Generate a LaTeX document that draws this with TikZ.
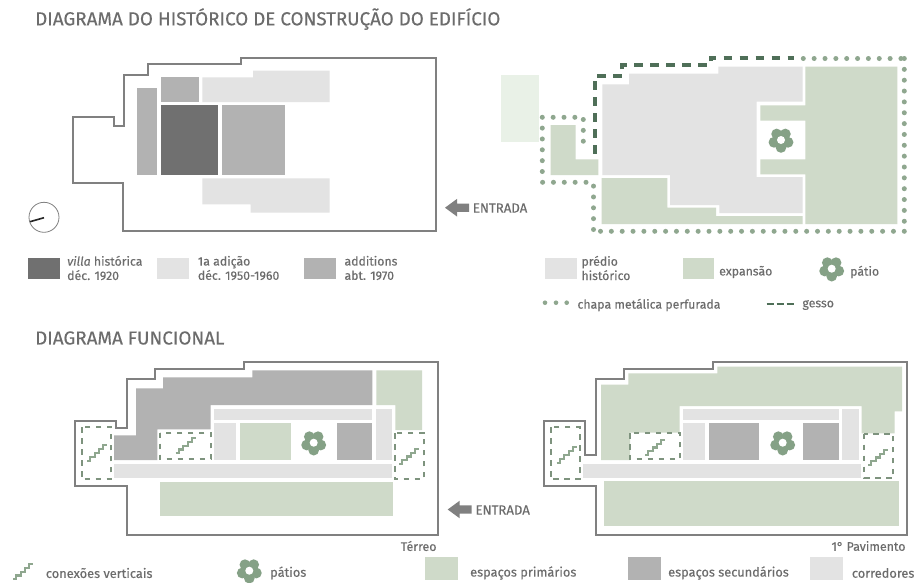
\documentclass[tikz,border=0pt]{standalone}
\usepackage{fontspec}
\setmainfont{Fira Sans}[FakeBold=0.25]
\definecolor{grnfill}{HTML}{CFDAC9}
\definecolor{palegrn}{HTML}{E9F1E7}
\definecolor{lightg}{HTML}{E3E3E3}
\definecolor{midg}{HTML}{B2B2B2}
\definecolor{darkg}{HTML}{707070}
\definecolor{outl}{HTML}{808080}
\definecolor{txt}{HTML}{6C6C6C}
\definecolor{dotg}{HTML}{8FA78F}
\definecolor{dashg}{HTML}{4F6F58}
\definecolor{flowerg}{HTML}{85A186}
\tikzset{
  x=1pt,y=-1pt,
  plan/.style={draw=outl,line width=1.8pt,line join=miter},
  dots/.style={draw=dotg,line width=5pt,line cap=round,dash pattern=on 0pt off 10.85pt},
  gessoline/.style={draw=dashg,line width=3.8pt,dash pattern=on 8.5pt off 7.5pt},
  stairbox/.style={draw=dotg!88!black,line width=1.7pt,dash pattern=on 5.5pt off 5.5pt},
  label/.style={anchor=west,inner sep=0pt,text=txt,font=\fontsize{12.3}{14.3}\selectfont,align=left},
  lowlabel/.style={label,font=\fontsize{12.8}{14.3}\selectfont},
  floorlabel/.style={label,anchor=east,font=\fontsize{12.4}{14.3}\selectfont},
  entrylabel/.style={label,font=\fontsize{13.2}{14.3}\selectfont},
  titletext/.style={anchor=west,inner sep=0pt,text=txt,font=\fontsize{18.8}{22}\selectfont},
  flower/.pic={
    \foreach \a in {90,162,234,306,18}{\fill[flowerg] (\a:7.4) circle[radius=5.4];}
    \fill[flowerg] (0,0) circle[radius=6];
    \fill[white] (0,0) circle[radius=4];
  },
  stairs/.pic={
    \draw[dotg,line width=2.2pt,line join=miter]
      (0,0)--(3,0)--(3,-3.8)--(7.6,-3.8)--(7.6,-7.6)--(12,-7.6)--(12,-11.4)--(16,-11.4)--(16,-15.4)--(20,-15.4);
  },
  entryarrow/.pic={
    \fill[outl] (0,0)--(12,-8.8)--(12,-4.2)--(24,-4.2)--(24,4.2)--(12,4.2)--(12,8.8)--cycle;
  }
}
\begin{document}
\begin{tikzpicture}
\useasboundingbox (0,0) rectangle (916,582);
\fill[white] (0,0) rectangle (916,582);

%% titles
\node[titletext] (t1) at (35,19) {DIAGRAMA DO HISTÓRICO DE CONSTRUÇÃO DO EDIFÍCIO};
\node[titletext] (t2) at (35,338) {DIAGRAMA FUNCIONAL};

%% top-left plan
\fill[midg] (136.7,88.3) rectangle (157,174.7);
\fill[midg] (160.7,77.3) rectangle (198.7,102);
\fill[lightg] (202.3,77.3)--(253,77.3)--(253,70.7)--(329.7,70.7)--(329.7,102)--(202.3,102)--cycle;
\fill[darkg] (160.7,105.3) rectangle (218.3,174.7);
\fill[midg] (222,105.3) rectangle (284.7,174.7);
\fill[lightg] (202.3,178.3)--(329.7,178.3)--(329.7,212.7)--(250.7,212.7)--(250.7,204.3)--(202.3,204.3)--cycle;
\draw[plan] (436,58.3)--(240.7,58.3)--(240.7,64.3)--(148.3,64.3)--(148.3,75.3)--(124.3,75.3)--(124.3,125.7)--(114.3,125.7)--(114.3,117.3)--(73.3,117.3)--(73.3,183)--(122.7,183)--(122.7,231.3)--(436,231.3)--cycle;
\draw[outl,line width=0.8pt] (44,217.3) circle[radius=15];
\draw[black!85,line width=1.6pt] (44,217.7)--(30,221.7);

%% legend top-left
\fill[darkg] (28.3,258) rectangle (60.3,279);
\node[label] (l1) at (67,268) {\textit{villa} histórica\\déc. 1920};
\fill[lightg] (157,258) rectangle (188.7,279);
\node[label] (l2) at (197.7,268) {1a adição\\déc. 1950-1960};
\fill[midg] (304.3,258) rectangle (336,279);
\node[label] (l3) at (344.3,268) {additions\\abt. 1970};

%% entrance top
\pic at (445,207.7) {entryarrow};
\node[entrylabel] (e1) at (472.7,208) {ENTRADA};

%% top-right plan
\fill[palegrn] (500.7,75) rectangle (539,141.7);
\fill[lightg] (602.3,84.3)--(629,84.3)--(629,73.7)--(718.3,73.7)--(718.3,66.7)--(802.7,66.7)--(802.7,101.7)--(756.7,101.7)--(756.7,177)--(802.7,177)--(802.7,213)--(719.3,213)--(719.3,205)--(670,205)--(670,175)--(602.3,175)--cycle;
\fill[grnfill] (805.3,66.7)--(897.3,66.7)--(897.3,224)--(805.3,224)--(805.3,174.3)--(760.3,174.3)--(760.3,159.3)--(805.3,159.3)--(805.3,120.7)--(760.3,120.7)--(760.3,105.3)--(805.3,105.3)--cycle;
\fill[grnfill] (601.7,178)--(667.3,178)--(667.3,207.7)--(716,207.7)--(716,216)--(802.7,216)--(802.7,224)--(601.7,224)--cycle;
\fill[grnfill] (550.7,125)--(575.7,125)--(575.7,159.3)--(598.3,159.3)--(598.3,175)--(550.7,175)--cycle;
\pic at (781,140) {flower};
% perforated sheet
\draw[dots] (803.3,58.5)--(904.3,58.5);
\draw[dots] (904.3,58.5)--(904.3,229.7);
\draw[dots] (904.3,231.3)--(593.3,231.3);
\draw[dots] (593.5,229.5)--(593.5,185.7);
\draw[dots] (586,182.3)--(542.3,182.3);
\draw[dots] (542.3,171.5)--(542.3,117.3);
\draw[dots] (542.3,117.3)--(575,117.3);
\draw[dots] (583.3,119.5)--(583.3,152);
% plaster
\draw[gessoline] (595,153.5)--(595,80);
\draw[gessoline] (597,75.7)--(622.3,75.7)--(622.3,64.7)--(710.7,64.7)--(710.7,58.3)--(793.5,58.3);

%% legend top-right
\fill[lightg] (545.3,258) rectangle (577,279);
\node[label] (l4) at (581.3,268) {prédio\\histórico};
\fill[grnfill] (682.7,258) rectangle (714.3,279);
\node[label] (l5) at (719,272) {expansão};
\pic at (831.7,268.7) {flower};
\node[label] (l6) at (850,272) {pátio};
\fill[dotg] (545,302.7) circle[radius=2.3] (556,302.7) circle[radius=2.3] (566.7,302.7) circle[radius=2.3];
\node[label] (l7) at (577.3,305) {chapa metálica perfurada};
\draw[dashg,line width=2.8pt,dash pattern=on 7pt off 3pt] (766.7,304)--(794.5,304);
\node[label] (l8) at (802.3,305) {gesso};

%% bottom-left plan
\fill[midg] (252.3,370.3)--(372.3,370.3)--(372.3,405)--(210.7,405)--(210.7,429.3)--(157.3,429.3)--(157.3,460)--(114,460)--(114,435.3)--(136,435.3)--(136,388.3)--(163,388.3)--(163,377.3)--(252.3,377.3)--cycle;
\fill[grnfill] (376.3,370.3)--(422,370.3)--(422,430)--(395.3,430)--(395.3,405)--(376.3,405)--cycle;
\fill[lightg] (213.7,409) rectangle (372.3,419.7);
\fill[lightg] (376.3,409) rectangle (392,460);
\fill[lightg] (213.7,423.3) rectangle (236,460);
\fill[lightg] (114,463.7) rectangle (392,477.7);
\fill[grnfill] (240,423.3) rectangle (291,460);
\fill[midg] (337,423.3) rectangle (372.3,460);
\fill[grnfill] (160.3,481.7) rectangle (392.7,516.3);
\pic at (313.7,442.7) {flower};
\draw[plan] (437.7,362)--(244.3,362)--(244.3,369.3)--(155,369.3)--(155,379.3)--(127.3,379.3)--(127.3,427.7)--(116,427.7)--(116,420.7)--(75,420.7)--(75,485.7)--(126.7,485.7)--(126.7,534.7)--(437.7,534.7)--cycle;
\draw[stairbox] (82,427) rectangle (110.7,479.3);
\draw[stairbox] (160.3,432.7) rectangle (210.7,459.3);
\draw[stairbox] (395,433) rectangle (423.7,479.3);
\pic at (87.3,460.7) {stairs};
\pic at (175.7,453.3) {stairs};
\pic at (399.3,464) {stairs};
\node[floorlabel] (l9) at (436.7,546) {Térreo};

%% entrance bottom
\pic at (447.7,509.5) {entryarrow};
\node[entrylabel] (e2) at (475.3,510) {ENTRADA};

%% bottom-right plan
\fill[grnfill] (717.3,366.7)--(902,366.7)--(902,411.3)--(894.7,411.3)--(894.7,433.3)--(861.7,433.3)--(861.7,406)--(679.7,406)--(679.7,432.7)--(630,432.7)--(630,460)--(601,460)--(601,384.7)--(628.3,384.7)--(628.3,373.3)--(717.3,373.3)--cycle;
\fill[lightg] (682.7,409) rectangle (839,419.7);
\fill[lightg] (842.3,409) rectangle (858.7,460);
\fill[lightg] (682.7,423.3) rectangle (705.3,460);
\fill[lightg] (583.3,463.7) rectangle (861.3,477.7);
\fill[midg] (708.7,423.3) rectangle (759.3,460);
\fill[midg] (803.3,423.3) rectangle (839,460);
\fill[grnfill] (604,481.3) rectangle (899.3,526);
\pic at (782.7,442.7) {flower};
\draw[plan] (906.7,362)--(713.3,362)--(713.3,369.3)--(624,369.3)--(624,379.3)--(596.3,379.3)--(596.3,455.3)--(585,455.3)--(585,420.7)--(544,420.7)--(544,485.7)--(595.7,485.7)--(595.7,534.7)--(906.7,534.7)--cycle;
\draw[stairbox] (550.7,427) rectangle (579.7,479.3);
\draw[stairbox] (630,433) rectangle (679.7,459.3);
\draw[stairbox] (864.3,433.7) rectangle (893.3,478);
\pic at (556.7,462.7) {stairs};
\pic at (645,455) {stairs};
\pic at (868.3,465) {stairs};
\node[floorlabel] (l10) at (905.7,546) {1° Pavimento};

%% legend bottom
\pic at (13,579.3) {stairs};
\node[lowlabel] (l11) at (45.7,573) {conexões verticais};
\pic at (249.3,570.7) {flower};
\node[lowlabel] (l12) at (270,573) {pátios};
\fill[grnfill] (425.3,556.7) rectangle (458.3,580);
\node[lowlabel] (l13) at (470,573) {espaços primários};
\fill[midg] (628,556.7) rectangle (661,580);
\node[lowlabel] (l14) at (668,573) {espaços secundários};
\fill[lightg] (809.7,556.7) rectangle (843,580);
\node[lowlabel] (l15) at (851.7,573) {corredores};
\end{tikzpicture}
\end{document}
